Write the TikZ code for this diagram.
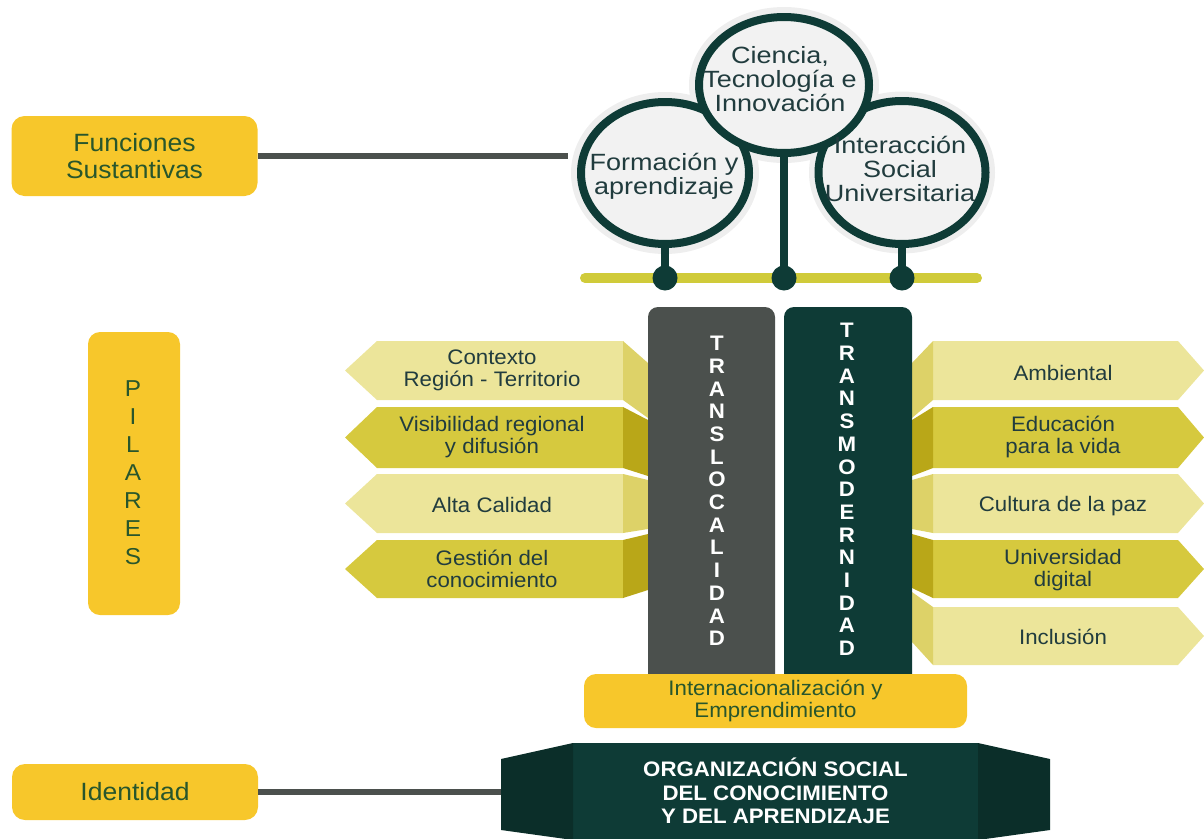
\documentclass[tikz,border=0pt]{standalone}
\usepackage{fontspec}
\setmainfont{Liberation Sans}[FakeStretch=1.06]
\newfontfamily\bubblefam{Liberation Sans}[FakeStretch=1.15]
\usetikzlibrary{shapes.geometric}

\definecolor{gold}{RGB}{247,199,43}
\definecolor{darkteal}{RGB}{14,59,54}
\definecolor{deepteal}{RGB}{11,46,41}
\definecolor{slate}{RGB}{75,80,77}
\definecolor{olivebar}{RGB}{208,203,58}
\definecolor{palearrow}{RGB}{236,229,154}
\definecolor{palefold}{RGB}{221,210,104}
\definecolor{olivearrow}{RGB}{214,201,62}
\definecolor{olivefold}{RGB}{185,167,24}
\definecolor{boxtext}{RGB}{40,86,44}
\definecolor{darktext}{RGB}{33,60,62}
\definecolor{bubblefill}{RGB}{242,242,242}
\definecolor{halo}{RGB}{238,238,238}

\newcommand{\txtbox}{\fontsize{25}{27}\selectfont}
\newcommand{\txtbubble}{\bubblefam\fontsize{23.5}{24}\selectfont\lineskiplimit=-30pt}
\newcommand{\txttag}{\fontsize{21}{22}\selectfont\lineskiplimit=-30pt}
\newcommand{\txtpillar}{\bfseries\fontsize{21}{22.7}\selectfont\lineskiplimit=-30pt}
\newcommand{\txtpilares}{\fontsize{23}{28}\selectfont\lineskiplimit=-30pt}
\newcommand{\txtorg}{\bfseries\fontsize{21}{23.5}\selectfont\lineskiplimit=-30pt}

\tikzset{every picture/.style={line width=0.5pt}}
\tikzset{
  goldbox/.style={fill=gold, rounded corners=13pt, text=boxtext, align=center, inner sep=0pt},
  bubble/.style={ellipse, draw=darkteal, line width=8pt, fill=bubblefill, inner sep=0pt},
  bubbletxt/.style={text=darktext, align=center, inner sep=0pt, font=\txtbubble},
  tagtxt/.style={text=darktext, align=center, inner sep=0pt, font=\txttag},
  pillartxt/.style={text=white, align=center, inner sep=0pt, font=\txtpillar},
  stem/.style={draw=darkteal, line width=8pt},
  pin/.style={circle, fill=darkteal, minimum size=25pt, inner sep=0pt},
  link/.style={draw=slate, line width=6pt},
  railbar/.style={draw=olivebar, line width=10pt, line cap=round},
}

\begin{document}
\begin{tikzpicture}[x=1pt,y=1pt,yscale=-1]
\useasboundingbox (0,0) rectangle (1204,838);

% Left labels
\node[goldbox, minimum width=246, minimum height=80, font=\txtbox] (fs) at (134.5,156) {Funciones\\Sustantivas};
\node[goldbox, minimum width=92, minimum height=283, rounded corners=12pt] (pil) at (134,473.5) {};
\node[text=boxtext, align=center, inner sep=0pt, font=\txtpilares] (pil-t) at (133,473) {P\\I\\L\\A\\R\\E\\S};
\node[goldbox, minimum width=246, minimum height=56, font=\txtbox] (ident) at (135,792) {Identidad};

%Shape: Halos
\fill[halo] (665,173) ellipse (94 and 81);
\fill[halo] (902,172.5) ellipse (93 and 81);
\fill[halo] (784,85) ellipse (95 and 78);

%Shape: Bubbles
\node[bubble, minimum width=168, minimum height=142] (form) at (665,173) {};
\node[bubble, minimum width=167, minimum height=143] (isu) at (902,172.5) {};
\node[bubble, minimum width=170, minimum height=136] (cti) at (784,85) {};

% Text Node
\node[bubbletxt] (form-t) at (664,176) {Formación y\\aprendizaje};
% Text Node
\node[bubbletxt] (cti-t) at (780,79) {Ciencia,\\Tecnología e\\Innovación};
% Text Node
\node[bubbletxt] (isu-t) at (900,169) {Interacción\\Social\\Universitaria};

%Straight Lines
\draw[link] (fs.east) -- ([xshift=-9pt]fs.east -| form.west);

%Rail and stems
\coordinate (railL) at (585,278);
\coordinate (railR) at (977,278);
\coordinate (pinF-c) at (665,278);
\coordinate (pinC-c) at (784,278);
\coordinate (pinI-c) at (902,278);
\draw[railbar] (railL) -- (railR);
\draw[stem] (form.south) -- (pinF-c);
\draw[stem] (cti.south) -- (pinC-c);
\draw[stem] (isu.south) -- (pinI-c);
\node[pin] (pinF) at (pinF-c) {};
\node[pin] (pinC) at (pinC-c) {};
\node[pin] (pinI) at (pinI-c) {};

%Shape: Left arrows
\fill[palearrow] (623,341) -- (377,341) -- (345,370.5) -- (377,400) -- (623,400) -- cycle;
\fill[palefold] (623,341) -- (648,363) -- (648,418) -- (623,400) -- cycle;
\fill[olivearrow] (623,407) -- (377,407) -- (345,437.5) -- (377,468) -- (623,468) -- cycle;
\fill[olivefold] (623,407) -- (648,420) -- (648,476) -- (623,468) -- cycle;
\fill[palearrow] (623,474) -- (377,474) -- (345,503.5) -- (377,533) -- (623,533) -- cycle;
\fill[palefold] (623,474) -- (648,480) -- (648,529) -- (623,533) -- cycle;
\fill[olivearrow] (623,540) -- (377,540) -- (345,569) -- (377,598) -- (623,598) -- cycle;
\fill[olivefold] (623,540) -- (648,534) -- (648,590) -- (623,598) -- cycle;

% Text Node
\node[tagtxt] (ctx) at (492,370.5) {Contexto\\Región - Territorio};
% Text Node
\node[tagtxt] (vis) at (492,437) {Visibilidad regional\\y difusión};
% Text Node
\node[tagtxt] (cal) at (492,505) {Alta Calidad};
% Text Node
\node[tagtxt] (ges) at (492,569) {Gestión del\\conocimiento};

%Shape: Right arrows
\fill[palearrow] (933,341) -- (1178,341) -- (1204,370.5) -- (1178,400) -- (933,400) -- cycle;
\fill[palefold] (912,363) -- (933,341) -- (933,400) -- (912,418) -- cycle;
\fill[olivearrow] (933,407) -- (1178,407) -- (1204,437.5) -- (1178,468) -- (933,468) -- cycle;
\fill[olivefold] (912,420) -- (933,407) -- (933,468) -- (912,476) -- cycle;
\fill[palearrow] (933,474) -- (1178,474) -- (1204,503.5) -- (1178,533) -- (933,533) -- cycle;
\fill[palefold] (912,480) -- (933,474) -- (933,533) -- (912,529) -- cycle;
\fill[olivearrow] (933,540) -- (1178,540) -- (1204,569) -- (1178,598) -- (933,598) -- cycle;
\fill[olivefold] (912,534) -- (933,540) -- (933,598) -- (912,588) -- cycle;
\fill[palearrow] (933,607) -- (1178,607) -- (1204,636) -- (1178,665) -- (933,665) -- cycle;
\fill[palefold] (912,592) -- (933,607) -- (933,665) -- (912,642) -- cycle;

% Text Node
\node[tagtxt] (amb) at (1063,373) {Ambiental};
% Text Node
\node[tagtxt] (edu) at (1063,437) {Educación\\para la vida};
% Text Node
\node[tagtxt] (paz) at (1063,506) {Cultura de la paz};
% Text Node
\node[tagtxt] (dig) at (1063,570) {Universidad\\digital};
% Text Node
\node[tagtxt] (inc) at (1063,637) {Inclusión};

%Shape: Pillars
\fill[slate, rounded corners=10pt] (648,700) -- (648,307) -- (775,307) -- (775,700) -- cycle;
\fill[darkteal, rounded corners=10pt] (784,700) -- (784,307) -- (912,307) -- (912,700) -- cycle;
\node[pillartxt] (tloc) at (717,491) {T\\R\\A\\N\\S\\L\\O\\C\\A\\L\\I\\D\\A\\D};
\node[pillartxt] (tmod) at (847,489.5) {T\\R\\A\\N\\S\\M\\O\\D\\E\\R\\N\\I\\D\\A\\D};

% Text Node
\node[goldbox, minimum width=383, minimum height=54, rounded corners=12pt, font=\txttag, text=boxtext] (inter) at (775.5,701) {Internacionalización y\\Emprendimiento};

%Shape: Base
\node[fill=darkteal, minimum width=405, minimum height=96, inner sep=0pt, text=white, align=center, font=\txtorg] (osca) at (775.5,791) {ORGANIZACIÓN SOCIAL\\DEL CONOCIMIENTO\\Y DEL APRENDIZAJE};
\draw[link] (ident.east) -- (ident.east -| osca.west);
\fill[deepteal] (573,743) -- (501,759) -- (501,830) -- (573,840) -- cycle;
\fill[deepteal] (978,743) -- (1050,759) -- (1050,830) -- (978,840) -- cycle;
\end{tikzpicture}
\end{document}
